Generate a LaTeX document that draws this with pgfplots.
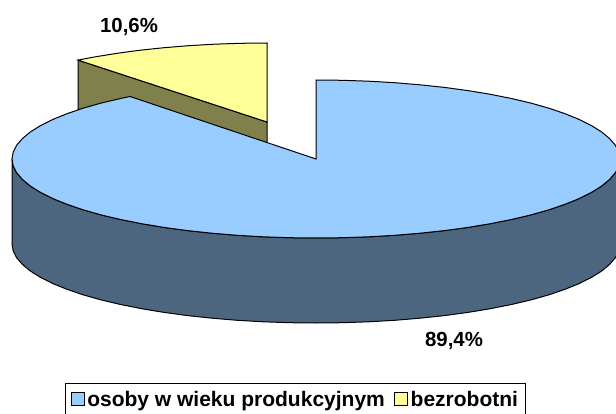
\documentclass[border=0pt]{standalone}
\usepackage{fontspec}
\setmainfont{Liberation Sans}
\usepackage{pgfplots}
\pgfplotsset{compat=1.18}
\definecolor{cblue}{HTML}{99CCFF}
\definecolor{cbluedark}{HTML}{4C6680}
\definecolor{cyellow}{HTML}{FFFF99}
\definecolor{colive}{HTML}{80804C}
\pgfplotsset{swatch/.style={legend image code/.code={\draw[##1,line width=0.8pt] (0pt,-6.5pt) rectangle (13pt,6.5pt);}}}
\begin{document}
\begin{tikzpicture}
\path[use as bounding box] (0,0) rectangle (616pt,414pt);
\begin{axis}[
  scale only axis, width=616pt, height=414pt,
  xmin=0, xmax=616, ymin=0, ymax=414, y dir=reverse,
  axis lines=none, clip=true,
  legend style={at={(axis cs:65,383)}, anchor=north west, draw=black, line width=1pt,
    font=\bfseries\fontsize{21}{22}\selectfont, legend columns=2, inner xsep=5pt, inner ysep=5pt,
    /tikz/every even column/.append style={column sep=6pt},
    nodes={inner xsep=3pt, inner ysep=2.5pt}},
  legend cell align=left,
]
\addlegendimage{swatch, fill=cblue, draw=black}
\addlegendentry{osoby w wieku produkcyjnym}
\addlegendimage{swatch, fill=cyellow, draw=black}
\addlegendentry{bezrobotni}
% olive wall
\addplot[forget plot, fill=colive, draw=black, line width=1pt] coordinates {(78,60.1)(267,122)(267,207)(78,145)} -- cycle;
% yellow top
\addplot[forget plot, fill=cyellow, draw=black, line width=1pt] coordinates {(267,122)(267,43)(240.5,43.3)(214.2,44.2)(188.3,45.7)(163,47.8)(138.5,50.4)(115,53.6)(92.6,57.3)(78,60.1)} -- cycle;
% dark wall
\addplot[forget plot, fill=cbluedark, draw=black, line width=1pt] coordinates {
(12,159)(13.2,165.9)(16.6,172.7)(22.4,179.4)(30.3,186)(40.5,192.4)(52.7,198.5)(67,204.3)(83.1,209.8)(101,214.9)(120.6,219.5)(141.6,223.7)(164,227.4)(187.5,230.6)(212,233.2)(237.3,235.3)(263.2,236.8)(289.5,237.7)(316,238)
(342.5,237.7)(368.8,236.8)(394.7,235.3)(420,233.2)(444.5,230.6)(468,227.4)(490.4,223.7)(511.4,219.5)(531,214.9)(548.9,209.8)(565,204.3)(579.3,198.5)(591.5,192.4)(601.7,186)(609.6,179.4)(615.4,172.7)(618.8,165.9)(620,159)
(620,244)(618.8,250.9)(615.4,257.7)(609.6,264.4)(601.7,271)(591.5,277.4)(579.3,283.5)(565,289.3)(548.9,294.8)(531,299.9)(511.4,304.5)(490.4,308.7)(468,312.4)(444.5,315.6)(420,318.2)(394.7,320.3)(368.8,321.8)(342.5,322.7)(316,323)
(289.5,322.7)(263.2,321.8)(237.3,320.3)(212,318.2)(187.5,315.6)(164,312.4)(141.6,308.7)(120.6,304.5)(101,299.9)(83.1,294.8)(67,289.3)(52.7,283.5)(40.5,277.4)(30.3,271)(22.4,264.4)(16.6,257.7)(13.2,250.9)(12,244)} -- cycle;
% blue top
\addplot[forget plot, fill=cblue, draw=black, line width=1pt] coordinates {
(316,159)(316,80)(342.5,80.3)(368.8,81.2)(394.7,82.7)(420,84.8)(444.5,87.4)(468,90.6)(490.4,94.3)(511.4,98.5)(531,103.1)(548.9,108.2)(565,113.7)(579.3,119.5)(591.5,125.6)(601.7,132)(609.6,138.6)(615.4,145.3)(618.8,152.1)(620,159)
(618.8,165.9)(615.4,172.7)(609.6,179.4)(601.7,186)(591.5,192.4)(579.3,198.5)(565,204.3)(548.9,209.8)(531,214.9)(511.4,219.5)(490.4,223.7)(468,227.4)(444.5,230.6)(420,233.2)(394.7,235.3)(368.8,236.8)(342.5,237.7)(316,238)
(289.5,237.7)(263.2,236.8)(237.3,235.3)(212,233.2)(187.5,230.6)(164,227.4)(141.6,223.7)(120.6,219.5)(101,214.9)(83.1,209.8)(67,204.3)(52.7,198.5)(40.5,192.4)(30.3,186)(22.4,179.4)(16.6,172.7)(13.2,165.9)(12,159)
(13.2,152.1)(16.6,145.3)(22.4,138.6)(30.3,132)(40.5,125.6)(52.7,119.5)(67,113.7)(83.1,108.2)(101,103.1)(120.6,98.5)(130,96.5)} -- cycle;
\node[font=\bfseries\fontsize{20.4}{22}\selectfont] at (axis cs:129,27) {10,6\%};
\node[font=\bfseries\fontsize{20.4}{22}\selectfont] at (axis cs:454,341) {89,4\%};
\end{axis}
\end{tikzpicture}
\end{document}
